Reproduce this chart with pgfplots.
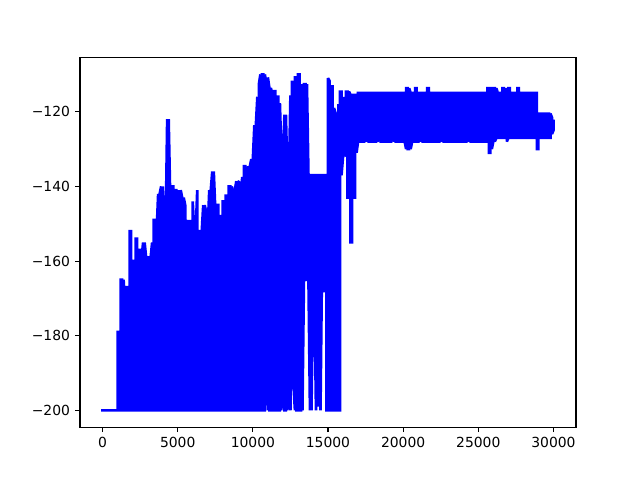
\documentclass[border=0pt]{standalone}
\usepackage{fontspec}
\setmainfont{DejaVu Sans}
\usepackage{pgfplots}
\pgfplotsset{compat=1.18}
\begin{document}
\begin{tikzpicture}
\useasboundingbox (0,0) rectangle (460.8pt,345.6pt);
\begin{axis}[
  at={(57.6pt,38.016pt)}, anchor=south west,
  scale only axis, width=357.12pt, height=266.112pt,
  xmin=-1500, xmax=31500, ymin=-204.5, ymax=-105.5,
  axis line style={line width=0.8pt},
  tick style={black, line width=0.8pt},
  tick align=outside, tick pos=left,
  major tick length=3.5pt,
  xtick={0,5000,10000,15000,20000,25000,30000},
  xticklabels={0,5000,10000,15000,20000,25000,30000},
  ytick={-200,-180,-160,-140,-120},
  yticklabels={−200,−180,−160,−140,−120},
  scaled x ticks=false,
  xticklabel style={font=\fontsize{10}{12}\selectfont, inner sep=0pt, yshift=-3.5pt},
  yticklabel style={font=\fontsize{10}{12}\selectfont, inner sep=0pt, xshift=-3.5pt},
]
\addplot[blue, line width=1.9pt, line join=miter, miter limit=1.5, line cap=rect] coordinates {
(0,-200)
(1000,-200)(1000,-179)
(1100,-179)(1100,-200)
(1200,-200)(1200,-165)
(1300,-165)(1300,-200)
(1400,-200)(1400,-165)
(1500,-172)(1500,-200)
(1600,-200)(1600,-167)
(1700,-167)(1700,-200)
(1800,-200)(1800,-152)
(1900,-152)(1900,-200)
(2000,-200)(2000,-160)
(2100,-160)(2100,-200)
(2200,-200)(2200,-154)
(2300,-154)(2300,-200)
(2400,-200)(2400,-157)
(2500,-157)(2500,-200)
(2600,-200)(2600,-159)
(2700,-155)(2700,-200)
(2800,-200)(2800,-155)
(2900,-159)(2900,-200)
(3000,-200)(3000,-159)
(3100,-159)(3100,-200)
(3200,-200)(3200,-159)
(3300,-155)(3300,-200)
(3400,-200)(3400,-149)
(3500,-149)(3500,-200)
(3600,-200)(3600,-152)
(3700,-142)(3700,-200)
(3800,-200)(3800,-142)
(3900,-140)(3900,-200)
(4000,-200)(4000,-140)
(4100,-147)(4100,-200)
(4200,-200)(4200,-151)
(4300,-122)(4300,-200)
(4400,-200)(4400,-122)
(4500,-142.5)(4500,-200)
(4600,-200)(4600,-140)
(4700,-140)(4700,-200)
(4800,-200)(4800,-141)
(4900,-141)(4900,-200)
(5000,-200)(5000,-155)
(5100,-141)(5100,-200)
(5200,-200)(5200,-141)
(5300,-143)(5300,-200)
(5400,-200)(5400,-143)
(5500,-145)(5500,-200)
(5600,-200)(5600,-151)
(5700,-149)(5700,-200)
(5800,-200)(5800,-149)
(5900,-153.5)(5900,-200)
(6000,-200)(6000,-144)
(6100,-152)(6100,-200)
(6200,-200)(6200,-152)
(6300,-141)(6300,-200)
(6400,-200)(6400,-152)
(6500,-152)(6500,-200)
(6600,-200)(6600,-152)
(6700,-145)(6700,-200)
(6800,-200)(6800,-145)
(6900,-147)(6900,-200)
(7000,-200)(7000,-151)
(7100,-141)(7100,-200)
(7200,-200)(7200,-141)
(7300,-136)(7300,-200)
(7400,-200)(7400,-136)
(7500,-146)(7500,-200)
(7600,-200)(7600,-145)
(7700,-145)(7700,-200)
(7800,-200)(7800,-148)
(7900,-148)(7900,-200)
(8000,-200)(8000,-144)
(8100,-144)(8100,-200)
(8200,-200)(8200,-142.5)
(8300,-142.5)(8300,-200)
(8400,-200)(8400,-140)
(8500,-140)(8500,-200)
(8600,-200)(8600,-140)
(8700,-142.5)(8700,-200)
(8800,-200)(8800,-141)
(8900,-138.6)(8900,-200)
(9000,-200)(9000,-138.6)
(9100,-139)(9100,-200)
(9200,-200)(9200,-141)
(9300,-137.5)(9300,-200)
(9400,-200)(9400,-134.6)
(9500,-134.6)(9500,-200)
(9600,-200)(9600,-137.5)
(9700,-134.6)(9700,-200)
(9800,-200)(9800,-134.6)
(9900,-132.7)(9900,-200)
(10000,-200)(10000,-132.7)
(10100,-123.6)(10100,-200)
(10200,-200)(10200,-123.6)
(10300,-116)(10300,-200)
(10400,-200)(10400,-112.7)
(10500,-110)(10500,-200)
(10600,-200)(10600,-110)
(10700,-110)(10700,-200)
(10800,-200)(10800,-110)
(10900,-112.7)(10900,-165)
(11000,-200)(11000,-110.8)
(11100,-113.6)(11100,-200)
(11200,-200)(11200,-113.6)
(11300,-116)(11300,-200)
(11400,-200)(11400,-114.5)
(11500,-114.5)(11500,-200)
(11600,-200)(11600,-116)
(11700,-116)(11700,-200)
(11800,-200)(11800,-117.7)
(11900,-131.5)(11900,-200)
(12000,-168)(12000,-133.7)
(12100,-120.8)(12100,-200)
(12200,-200)(12200,-120.8)
(12300,-137.6)(12300,-200)
(12400,-168)(12400,-137.6)
(12500,-115.6)(12500,-200)
(12600,-167)(12600,-111.7)
(12700,-137.6)(12700,-193)
(12800,-200)(12800,-110.8)
(12900,-110.8)(12900,-200)
(13000,-200)(13000,-110)
(13100,-110)(13100,-200)
(13200,-200)(13200,-125.7)
(13300,-112.6)(13300,-200)
(13400,-165)(13400,-112.6)
(13500,-112.6)(13500,-165)
(13600,-165)(13600,-112.6)
(13700,-137)(13700,-165)
(13800,-200)(13800,-137)
(13900,-137)(13900,-200)
(14000,-170)(14000,-137)
(14100,-137)(14100,-170)
(14200,-200)(14200,-137)
(14300,-137)(14300,-165)
(14400,-199)(14400,-137)
(14500,-137)(14500,-200)
(14600,-162)(14600,-137)
(14700,-137)(14700,-168)
(14800,-168)(14800,-137)
(14900,-137)(14900,-200)
(15000,-200)(15000,-111)
(15100,-111.7)(15100,-200)
(15200,-200)(15200,-113.2)
(15300,-113.2)(15300,-200)
(15400,-200)(15400,-119)
(15500,-120.3)(15500,-200)
(15600,-200)(15600,-137)
(15700,-118)(15700,-200)
(15800,-200)(15800,-114.6)
(15900,-114.6)(15900,-137)
(16000,-132)(16000,-116.4)
(16100,-116.4)(16100,-132)
(16200,-130)(16200,-114.6)
(16300,-114.6)(16300,-143)
(16400,-143)(16400,-114.6)
(16500,-115.5)(16500,-155)
(16600,-155)(16600,-115.5)
(16700,-115.5)(16700,-143)
(16800,-143)(16800,-115.5)
(16900,-115.5)(16900,-131)
(17000,-128)(17000,-115)
(17100,-115)(17100,-128)
(17200,-128)(17200,-115)
(17300,-115)(17300,-128)
(17400,-128)(17400,-115)
(17500,-115)(17500,-127)
(17600,-128)(17600,-115)
(17700,-115)(17700,-128)
(17800,-128)(17800,-115)
(17900,-115)(17900,-128)
(18000,-128)(18000,-115)
(18100,-115)(18100,-128)
(18200,-128)(18200,-115)
(18300,-115)(18300,-128)
(18400,-127)(18400,-115)
(18500,-115)(18500,-128)
(18600,-128)(18600,-115)
(18700,-115)(18700,-128)
(18800,-128)(18800,-115)
(18900,-115)(18900,-128)
(19000,-128)(19000,-115)
(19100,-115)(19100,-128)
(19200,-128)(19200,-115)
(19300,-115)(19300,-127)
(19400,-128)(19400,-115)
(19500,-115)(19500,-128)
(19600,-128)(19600,-115)
(19700,-115)(19700,-128)
(19800,-128)(19800,-115)
(19900,-115)(19900,-128)
(20000,-128)(20000,-115)
(20100,-115)(20100,-128)
(20200,-130)(20200,-113.7)
(20300,-113.7)(20300,-130)
(20400,-130)(20400,-113.7)
(20500,-115)(20500,-130)
(20600,-128)(20600,-115)
(20700,-115)(20700,-128)
(20800,-128)(20800,-113.7)
(20900,-113.7)(20900,-128)
(21000,-128)(21000,-115)
(21100,-115)(21100,-127)
(21200,-128)(21200,-115)
(21300,-115)(21300,-128)
(21400,-128)(21400,-115)
(21500,-115)(21500,-128)
(21600,-128)(21600,-113.7)
(21700,-113.7)(21700,-128)
(21800,-128)(21800,-115)
(21900,-115)(21900,-128)
(22000,-128)(22000,-115)
(22100,-115)(22100,-128)
(22200,-128)(22200,-115)
(22300,-115)(22300,-128)
(22400,-128)(22400,-115)
(22500,-115)(22500,-128)
(22600,-127)(22600,-115)
(22700,-115)(22700,-128)
(22800,-128)(22800,-115)
(22900,-115)(22900,-128)
(23000,-128)(23000,-115)
(23100,-115)(23100,-128)
(23200,-128)(23200,-115)
(23300,-115)(23300,-128)
(23400,-128)(23400,-115)
(23500,-115)(23500,-128)
(23600,-128)(23600,-115)
(23700,-115)(23700,-128)
(23800,-128)(23800,-115)
(23900,-115)(23900,-128)
(24000,-128)(24000,-115)
(24100,-115)(24100,-128)
(24200,-128)(24200,-115)
(24300,-115)(24300,-127)
(24400,-128)(24400,-115)
(24500,-115)(24500,-128)
(24600,-128)(24600,-115)
(24700,-115)(24700,-128)
(24800,-128)(24800,-115)
(24900,-115)(24900,-128)
(25000,-128)(25000,-115)
(25100,-115)(25100,-128)
(25200,-128)(25200,-115)
(25300,-115)(25300,-128)
(25400,-128)(25400,-115)
(25500,-115)(25500,-128)
(25600,-128)(25600,-113.7)
(25700,-113.7)(25700,-131)
(25800,-131)(25800,-113.7)
(25900,-113.7)(25900,-130)
(26000,-128)(26000,-113.7)
(26100,-113.7)(26100,-128)
(26200,-127)(26200,-113.7)
(26300,-115)(26300,-127)
(26400,-127)(26400,-115)
(26500,-115)(26500,-127)
(26600,-127)(26600,-113.7)
(26700,-113.7)(26700,-127)
(26800,-127)(26800,-115)
(26900,-113.7)(26900,-128)
(27000,-127)(27000,-113.7)
(27100,-113.7)(27100,-127)
(27200,-127)(27200,-115)
(27300,-115)(27300,-127)
(27400,-127)(27400,-115)
(27500,-115)(27500,-127)
(27600,-127)(27600,-113.7)
(27700,-113.7)(27700,-127)
(27800,-127)(27800,-115)
(27900,-115)(27900,-127)
(28000,-127)(28000,-115)
(28100,-115)(28100,-127)
(28200,-127)(28200,-115)
(28300,-115)(28300,-127)
(28400,-127)(28400,-115)
(28500,-115)(28500,-127)
(28600,-127)(28600,-115)
(28700,-115)(28700,-127)
(28800,-127)(28800,-115)
(28900,-115)(28900,-130)
(29000,-130)(29000,-120.5)
(29100,-120.5)(29100,-127)
(29200,-127)(29200,-120.5)
(29300,-120.5)(29300,-127)
(29400,-127)(29400,-120.5)
(29500,-120.5)(29500,-127)
(29600,-127)(29600,-120.5)
(29700,-120.5)(29700,-127)
(29800,-127)(29800,-120.5)
(29900,-121.5)(29900,-126)
(30000,-125)(30000,-122.5)
};
\end{axis}
\end{tikzpicture}
\end{document}
